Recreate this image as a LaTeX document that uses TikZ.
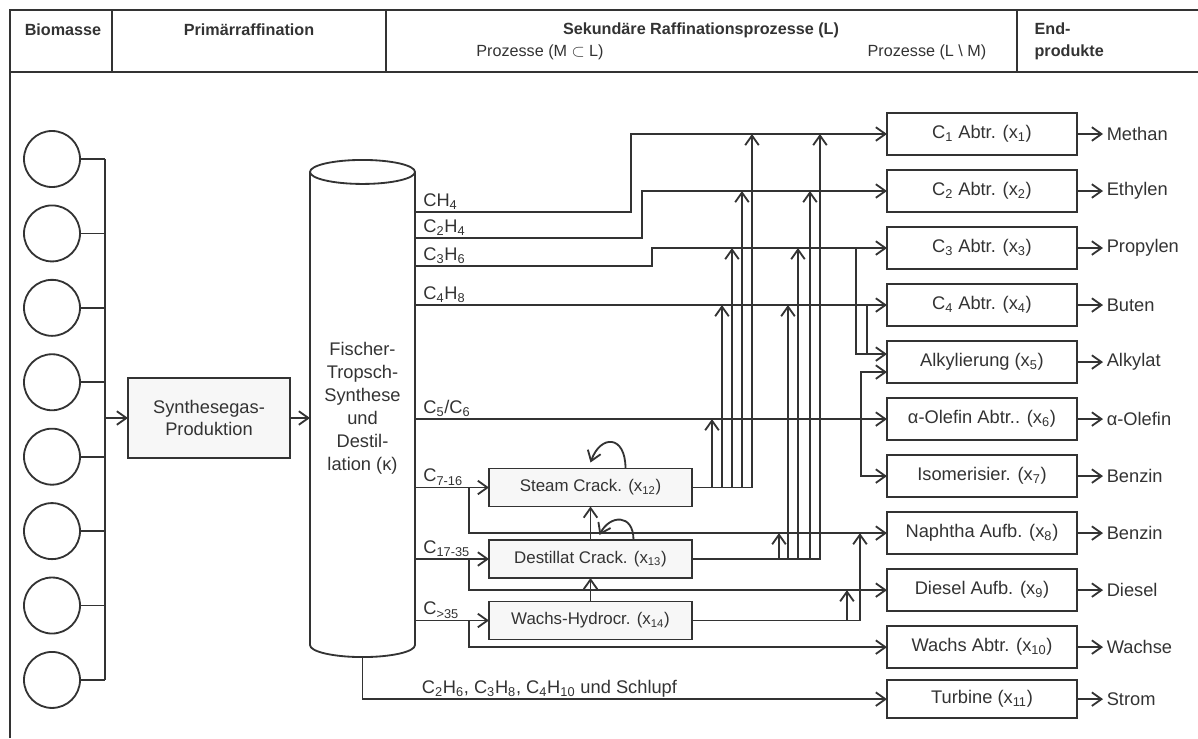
\documentclass[tikz,border=0pt]{standalone}
\usepackage{fontspec}
\setmainfont{Liberation Sans}
\usetikzlibrary{arrows.meta,positioning,calc}

\newcommand{\tief}[1]{\textsubscript{#1}}

\begin{document}
\begin{tikzpicture}[
    x=0.025cm, y=-0.025cm,
    font=\fontsize{13}{16}\selectfont,
    color=black!80,
    line width=1.3pt,
    >={Straight Barb[length=2.4mm,width=3.4mm,line width=1.3pt]},
    proc/.style={draw, minimum width=4.75cm, minimum height=1.05cm, inner sep=1pt,
                 outer sep=0pt, fill=white},
    crack/.style={draw, minimum width=5.075cm, minimum height=0.95cm, inner sep=1pt,
                  outer sep=0pt, fill=black!3, font=\fontsize{12}{14}\selectfont},
    bio/.style={draw, circle, minimum size=1.4cm, inner sep=0pt, outer sep=0pt},
    prod/.style={inner sep=2pt, anchor=west},
    strm/.style={inner sep=1pt, anchor=south west},
    head/.style={font=\fontsize{11.5}{15.5}\selectfont\bfseries},
    subhead/.style={font=\fontsize{11.5}{14}\selectfont},
]
\useasboundingbox (0,0) rectangle (1198,738);

% --- Header table ---
\draw[line width=1.6pt] (10,738) -- (10,10) -- (1198,10);
\draw[line width=1.6pt] (10,72) -- (1198,72);
\draw[line width=1.6pt] (112,10) -- (112,72);
\draw[line width=1.6pt] (386,10) -- (386,72);
\draw[line width=1.6pt] (1017,10) -- (1017,72);
\node[head] (hbio) at (63,30) {Biomasse};
\node[head] (hpri) at (249,30) {Primärraffination};
\node[head] (hsek) at (701,30) {Sekundäre Raffinationsprozesse (L)};
\node[subhead] (hm)  at (540,52) {Prozesse (M $\subset$ L)};
\node[subhead] (hlm) at (927,52) {Prozesse (L {\textbackslash} M)};
\node[head, align=left, anchor=west] (hend) at (1029,41) {End-\\produkte};

% --- Biomass sources and collecting bus ---
\node[bio] (bio1) at (52,159) {};
\node[bio, below=4.6mm of bio1] (bio2) {};
\node[bio, below=4.6mm of bio2] (bio3) {};
\node[bio, below=4.6mm of bio3] (bio4) {};
\node[bio, below=4.6mm of bio4] (bio5) {};
\node[bio, below=4.6mm of bio5] (bio6) {};
\node[bio, below=4.6mm of bio6] (bio7) {};
\node[bio, below=4.6mm of bio7] (bio8) {};
\coordinate (bus) at (105,0);
\draw (bio1.east) -- (bus |- bio1.east);
\draw (bio2.east) -- (bus |- bio2.east);
\draw (bio3.east) -- (bus |- bio3.east);
\draw (bio4.east) -- (bus |- bio4.east);
\draw (bio5.east) -- (bus |- bio5.east);
\draw (bio6.east) -- (bus |- bio6.east);
\draw (bio7.east) -- (bus |- bio7.east);
\draw (bio8.east) -- (bus |- bio8.east);
\draw (bus |- bio1.east) -- (bus |- bio8.east);

% --- Primary refining ---
\node[proc, fill=black!3, minimum width=4.05cm, minimum height=2cm, align=center]
      (syn) at (209,418) {Synthesegas-\\Produktion};
\draw[->] (bus |- syn.west) -- (syn.west);

\node[minimum width=2.625cm, minimum height=11.825cm, inner sep=0pt, outer sep=0pt,
      align=center, font=\fontsize{13}{16.4}\selectfont]
      (ft) at (362.5,408.5) {Fischer-\\Tropsch-\\Synthese\\und\\Destil-\\lation (κ)};
\draw (ft.north west) -- (ft.south west)
      arc[start angle=180, end angle=360, x radius=1.3125cm, y radius=0.3cm] -- (ft.north east);
\draw (ft.north) ellipse[x radius=1.3125cm, y radius=0.3cm];
\draw[->] (syn.east) -- (syn.east -| ft.west);

% --- Secondary processes (right column) and end products ---
\node[proc] (p1) at (982,134) {C\tief{1} Abtr. (x\tief{1})};
\node[proc, below=3.75mm of p1]  (p2)  {C\tief{2} Abtr. (x\tief{2})};
\node[proc, below=3.75mm of p2]  (p3)  {C\tief{3} Abtr. (x\tief{3})};
\node[proc, below=3.75mm of p3]  (p4)  {C\tief{4} Abtr. (x\tief{4})};
\node[proc, below=3.75mm of p4]  (p5)  {Alkylierung (x\tief{5})};
\node[proc, below=3.75mm of p5]  (p6)  {α-Olefin Abtr.. (x\tief{6})};
\node[proc, below=3.75mm of p6]  (p7)  {Isomerisier. (x\tief{7})};
\node[proc, below=3.75mm of p7]  (p8)  {Naphtha Aufb. (x\tief{8})};
\node[proc, below=3.75mm of p8]  (p9)  {Diesel Aufb. (x\tief{9})};
\node[proc, below=3.75mm of p9]  (p10) {Wachs Abtr. (x\tief{10})};
\node[proc, below=3mm of p10, minimum height=0.95cm] (p11) {Turbine (x\tief{11})};

\node[prod, right=6.5mm of p1]  (o1)  {Methan};
\node[prod, right=6.5mm of p2]  (o2)  {Ethylen};
\node[prod, right=6.5mm of p3]  (o3)  {Propylen};
\node[prod, right=6.5mm of p4]  (o4)  {Buten};
\node[prod, right=6.5mm of p5]  (o5)  {Alkylat};
\node[prod, right=6.5mm of p6]  (o6)  {α-Olefin};
\node[prod, right=6.5mm of p7]  (o7)  {Benzin};
\node[prod, right=6.5mm of p8]  (o8)  {Benzin};
\node[prod, right=6.5mm of p9]  (o9)  {Diesel};
\node[prod, right=6.5mm of p10] (o10) {Wachse};
\node[prod, right=6.5mm of p11] (o11) {Strom};
\draw[->] (p1.east) -- (o1.west);
\draw[->] (p2.east) -- (o2.west);
\draw[->] (p3.east) -- (o3.west);
\draw[->] (p4.east) -- (o4.west);
\draw[->] (p5.east) -- (o5.west);
\draw[->] (p6.east) -- (o6.west);
\draw[->] (p7.east) -- (o7.west);
\draw[->] (p8.east) -- (o8.west);
\draw[->] (p9.east) -- (o9.west);
\draw[->] (p10.east) -- (o10.west);
\draw[->] (p11.east) -- (o11.west);

% --- Cracking units ---
\node[crack] (sc) at (590.5,487.5) {Steam Crack. (x\tief{12})};
\node[crack] (dc) at (590.5,559)   {Destillat Crack. (x\tief{13})};
\node[crack] (wh) at (590.5,620.5) {Wachs-Hydrocr. (x\tief{14})};
\draw[->] (wh.north) -- (dc.south);
\draw[->] (dc.north) -- (sc.south);
% recycle loops
\draw[->] ($(sc.north)+(35,0)$) .. controls +(0,-34) and +(10,-28) .. ($(sc.north)+(0,-6)$);
\draw[->] ($(dc.north)+(43,0)$) .. controls +(0,-27) and +(10,-20) .. ($(dc.north)+(9,-5)$);

% --- FT product streams ---
\draw[->] ($(ft.north east)+(0,40)$) -| ($(p1.west)+(-256,0)$) -- (p1.west);
\draw[->] ($(ft.north east)+(0,66)$) -| ($(p2.west)+(-245,0)$) -- (p2.west);
\draw[->] ($(ft.north east)+(0,94)$) -| ($(p3.west)+(-235,0)$) -- (p3.west);
\draw[->] (p4.west -| ft.east) -- (p4.west);
\draw[->] (p6.west -| ft.east) -- (p6.west);
\draw[->] (sc.west -| ft.east) -- (sc.west);
\draw[->] (dc.west -| ft.east) -- (dc.west);
\draw[->] (wh.west -| ft.east) -- (wh.west);
\draw[->] ($(sc.west)+(-20,0)$) |- (p8.west);
\draw[->] ($(dc.west)+(-20,0)$) |- (p9.west);
\draw[->] ($(wh.west)+(-20,0)$) |- (p10.west);
\draw[->] ($(ft.south)+(0,12)$) |- (p11.west);

\node[strm] (lch4) at ($(ft.north east)+(6,40)$)  {CH\tief{4}};
\node[strm] (lc2)  at ($(ft.north east)+(6,66)$)  {C\tief{2}H\tief{4}};
\node[strm] (lc3)  at ($(ft.north east)+(6,94)$)  {C\tief{3}H\tief{6}};
\node[strm] (lc4)  at ($(p4.west -| ft.east)+(6,0)$) {C\tief{4}H\tief{8}};
\node[strm] (lc5)  at ($(p6.west -| ft.east)+(6,0)$) {C\tief{5}/C\tief{6}};
\node[strm] (lc7)  at ($(sc.west -| ft.east)+(6,0)$) {C\tief{7-16}};
\node[strm] (lc17) at ($(dc.west -| ft.east)+(6,0)$) {C\tief{17-35}};
\node[strm] (lc35) at ($(wh.west -| ft.east)+(6,0)$) {C\tief{>35}};
\node[strm] (lgas) at ($(ft.south |- p11.west)+(57,0)$)
      {C\tief{2}H\tief{6}, C\tief{3}H\tief{8}, C\tief{4}H\tief{10} und Schlupf};

% --- Light olefins to alkylation / isomerisation ---
\draw[->] ($(p3.west)+(-31,0)$) |- ($(p5.west)+(0,-8)$);
\draw ($(p4.west)+(-20,0)$) |- ($(p5.west)+(0,-8)$);
\draw[<->] ($(p5.west)+(0,10)$) -| ($(p7.west)+(-26,0)$) -- (p7.west);

% --- Cracker products back into the streams ---
\draw[->] (sc.east) -| ($(p6.west)+(-175,0)$);
\draw[->] (sc.east) -| ($(p4.west)+(-165,0)$);
\draw[->] (sc.east) -| ($(p3.west)+(-155,0)$);
\draw[->] (sc.east) -| ($(p2.west)+(-145,0)$);
\draw[->] (sc.east) -| ($(p1.west)+(-135,0)$);
\draw[->] (dc.east) -| ($(p8.west)+(-108,0)$);
\draw[->] (dc.east) -| ($(p4.west)+(-99,0)$);
\draw[->] (dc.east) -| ($(p3.west)+(-89,0)$);
\draw[->] (dc.east) -| ($(p2.west)+(-77,0)$);
\draw[->] (dc.east) -| ($(p1.west)+(-67,0)$);
\draw[->] (wh.east) -| ($(p9.west)+(-40,0)$);
\draw[->] (wh.east) -| ($(p8.west)+(-27,0)$);

\end{tikzpicture}
\end{document}
